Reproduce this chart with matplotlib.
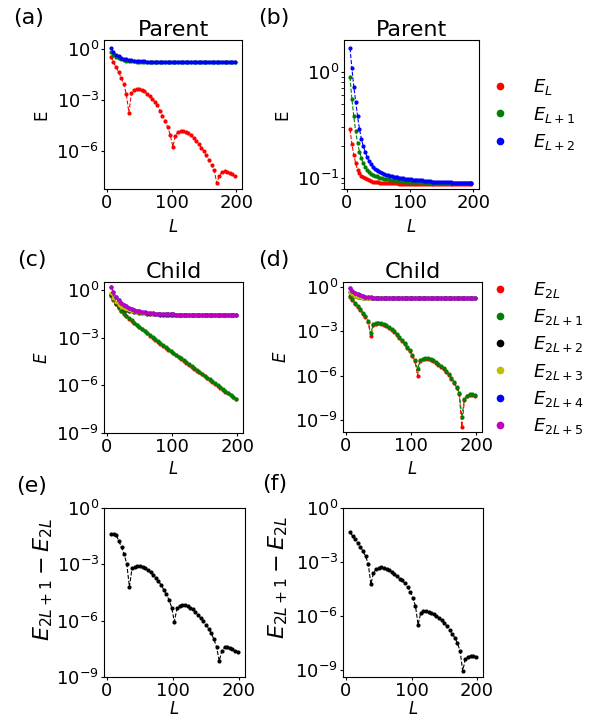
import numpy as np
import matplotlib
matplotlib.use("Agg")
import matplotlib.pyplot as plt
from matplotlib.lines import Line2D
from matplotlib.ticker import NullLocator, NullFormatter


# system sizes
L = np.arange(6, 199, 4)       # 6, 10, ..., 198
L_b = np.arange(5, 198, 3)     # 5, 8, ..., 197  (panel b)

# ---- (a) parent, log10 of the three lowest levels ----
a_EL = [-0.45, -0.75, -1.05, -1.35, -1.7, -2.05, -2.65, -3.75, -2.6, -2.4,
        -2.35, -2.36, -2.42, -2.5, -2.62, -2.76, -2.92, -3.1, -3.32, -3.62,
        -3.92, -4.24, -4.6, -5.05, -5.75, -5.1, -4.88, -4.8, -4.8, -4.86,
        -4.95, -5.07, -5.22, -5.4, -5.6, -5.8, -6.0, -6.25, -6.52, -6.82,
        -7.15, -7.9, -7.45, -7.25, -7.2, -7.22, -7.28, -7.36, -7.45]
a_EL1 = [-0.2, -0.34, -0.45, -0.54, -0.6, -0.65, -0.68, -0.7, -0.72, -0.73,
         -0.74, -0.75, -0.755, -0.76, -0.765, -0.77, -0.77, -0.775, -0.775, -0.78,
         -0.78, -0.78, -0.78, -0.78, -0.78, -0.78, -0.78, -0.78, -0.78, -0.78,
         -0.78, -0.78, -0.78, -0.78, -0.78, -0.78, -0.78, -0.78, -0.78, -0.78,
         -0.78, -0.78, -0.78, -0.78, -0.78, -0.78, -0.78, -0.78, -0.78]
a_EL2 = [0.08, -0.17, -0.33, -0.43, -0.51, -0.57, -0.61, -0.64, -0.66, -0.68,
         -0.7, -0.71, -0.72, -0.73, -0.74, -0.745, -0.75, -0.755, -0.76, -0.765,
         -0.77, -0.77, -0.77, -0.775, -0.775, -0.775, -0.775, -0.775, -0.78, -0.78,
         -0.78, -0.78, -0.78, -0.78, -0.78, -0.78, -0.78, -0.78, -0.78, -0.78,
         -0.78, -0.78, -0.78, -0.78, -0.78, -0.78, -0.78, -0.78, -0.78]

# ---- (b) parent, log10 levels on L_b ----
b_EL = [-0.54, -0.68, -0.78, -0.86, -0.92, -0.95, -0.975, -0.99, -1.0, -1.01,
        -1.02, -1.025, -1.03, -1.03, -1.035, -1.035, -1.04, -1.04, -1.04, -1.04,
        -1.045, -1.045, -1.045, -1.045, -1.045, -1.045, -1.05, -1.05, -1.05, -1.05,
        -1.05, -1.05, -1.05, -1.05, -1.05, -1.05, -1.05, -1.05, -1.05, -1.05,
        -1.055, -1.055, -1.055, -1.055, -1.055, -1.055, -1.055, -1.055, -1.055, -1.055,
        -1.055, -1.055, -1.055, -1.055, -1.055, -1.055, -1.055, -1.055, -1.055, -1.055,
        -1.055, -1.055, -1.055, -1.055, -1.055]
b_EL1 = [-0.05, -0.26, -0.42, -0.56, -0.67, -0.75, -0.81, -0.86, -0.89, -0.92,
         -0.94, -0.955, -0.965, -0.975, -0.98, -0.99, -0.995, -1.0, -1.005, -1.01,
         -1.01, -1.015, -1.015, -1.02, -1.02, -1.02, -1.025, -1.025, -1.025, -1.03,
         -1.03, -1.03, -1.03, -1.03, -1.035, -1.035, -1.035, -1.035, -1.035, -1.035,
         -1.04, -1.04, -1.04, -1.04, -1.04, -1.04, -1.04, -1.04, -1.04, -1.04,
         -1.045, -1.045, -1.045, -1.045, -1.045, -1.045, -1.045, -1.045, -1.045, -1.045,
         -1.045, -1.045, -1.045, -1.045, -1.045]
b_EL2 = [0.22, 0.03, -0.14, -0.28, -0.42, -0.54, -0.63, -0.7, -0.75, -0.8,
         -0.84, -0.87, -0.89, -0.91, -0.92, -0.93, -0.94, -0.95, -0.96, -0.965,
         -0.97, -0.975, -0.98, -0.985, -0.99, -0.99, -0.995, -1.0, -1.0, -1.005,
         -1.01, -1.01, -1.01, -1.015, -1.015, -1.02, -1.02, -1.02, -1.02, -1.025,
         -1.025, -1.025, -1.025, -1.03, -1.03, -1.03, -1.03, -1.03, -1.035, -1.035,
         -1.035, -1.035, -1.035, -1.035, -1.04, -1.04, -1.04, -1.04, -1.04, -1.04,
         -1.04, -1.04, -1.04, -1.04, -1.04]

# ---- (c) child, log10 levels ----
c_E2L = [-0.35, -0.64, -0.91, -1.14, -1.34, -1.52, -1.66, -1.81, -1.96, -2.09,
         -2.22, -2.35, -2.48, -2.61, -2.74, -2.87, -3.0, -3.13, -3.26, -3.39,
         -3.51, -3.63, -3.75, -3.87, -3.99, -4.11, -4.23, -4.35, -4.47, -4.59,
         -4.71, -4.83, -4.95, -5.07, -5.19, -5.31, -5.43, -5.55, -5.67, -5.79,
         -5.91, -6.03, -6.15, -6.27, -6.39, -6.51, -6.63, -6.75, -6.87]
c_E2L1 = [-0.31, -0.6, -0.87, -1.1, -1.3, -1.48, -1.62, -1.77, -1.92, -2.05,
          -2.18, -2.31, -2.44, -2.57, -2.7, -2.83, -2.96, -3.09, -3.22, -3.35,
          -3.47, -3.59, -3.71, -3.83, -3.95, -4.07, -4.19, -4.31, -4.43, -4.55,
          -4.67, -4.79, -4.91, -5.03, -5.15, -5.27, -5.39, -5.51, -5.63, -5.75,
          -5.87, -5.99, -6.11, -6.23, -6.35, -6.47, -6.59, -6.71, -6.83]
c_E2L2 = [-0.24, -0.53, -0.81, -0.98, -1.1, -1.19, -1.25, -1.3, -1.34, -1.38,
          -1.41, -1.44, -1.46, -1.48, -1.5, -1.51, -1.52, -1.53, -1.54, -1.55,
          -1.55, -1.56, -1.56, -1.57, -1.57, -1.58, -1.58, -1.58, -1.59, -1.59,
          -1.59, -1.59, -1.59, -1.6, -1.6, -1.6, -1.6, -1.6, -1.6, -1.6,
          -1.6, -1.6, -1.6, -1.6, -1.6, -1.6, -1.6, -1.6, -1.6]
c_E2L3 = [-0.21, -0.5, -0.78, -0.95, -1.07, -1.16, -1.22, -1.27, -1.31, -1.35,
          -1.38, -1.41, -1.43, -1.45, -1.47, -1.48, -1.49, -1.5, -1.51, -1.52,
          -1.52, -1.53, -1.53, -1.54, -1.54, -1.55, -1.55, -1.55, -1.56, -1.56,
          -1.56, -1.56, -1.56, -1.57, -1.57, -1.57, -1.57, -1.57, -1.57, -1.57,
          -1.57, -1.57, -1.57, -1.57, -1.57, -1.57, -1.57, -1.57, -1.57]
c_E2L5 = [0.17, -0.14, -0.45, -0.66, -0.83, -0.95, -1.04, -1.12, -1.19, -1.25,
          -1.3, -1.34, -1.38, -1.41, -1.44, -1.46, -1.48, -1.49, -1.5, -1.51,
          -1.52, -1.53, -1.53, -1.54, -1.54, -1.55, -1.55, -1.55, -1.56, -1.56,
          -1.56, -1.56, -1.56, -1.57, -1.57, -1.57, -1.57, -1.57, -1.57, -1.57,
          -1.57, -1.57, -1.57, -1.57, -1.57, -1.57, -1.57, -1.57, -1.57]
c_E2L4 = c_E2L5  # degenerate pair, E_{2L+4} sits under E_{2L+5}

# ---- (d) child, log10 levels ----
d_E2L = [-0.66, -0.91, -1.14, -1.34, -1.56, -1.81, -2.06, -2.36, -3.3, -2.61,
         -2.51, -2.48, -2.51, -2.58, -2.66, -2.78, -2.91, -3.06, -3.24, -3.44,
         -3.66, -3.88, -4.11, -4.36, -4.68, -5.01, -6.0, -5.01, -4.91, -4.86,
         -4.88, -4.94, -5.04, -5.16, -5.3, -5.44, -5.58, -5.74, -5.96, -6.21,
         -6.51, -6.86, -7.21, -9.45, -7.66, -7.41, -7.31, -7.31, -7.36]
d_E2L1 = [-0.6, -0.85, -1.08, -1.28, -1.5, -1.75, -2.0, -2.3, -3.15, -2.55,
          -2.45, -2.42, -2.45, -2.52, -2.6, -2.72, -2.85, -3.0, -3.18, -3.38,
          -3.6, -3.82, -4.05, -4.3, -4.62, -4.95, -5.55, -4.95, -4.85, -4.8,
          -4.82, -4.88, -4.98, -5.1, -5.24, -5.38, -5.52, -5.68, -5.9, -6.15,
          -6.45, -6.8, -7.15, -8.8, -7.6, -7.35, -7.25, -7.25, -7.3]
d_E2L3 = [-0.38, -0.52, -0.62, -0.68, -0.72, -0.74, -0.755, -0.765, -0.77, -0.775,
          -0.78, -0.78, -0.78, -0.78, -0.78, -0.78, -0.78, -0.78, -0.78, -0.78,
          -0.78, -0.78, -0.78, -0.78, -0.78, -0.78, -0.78, -0.78, -0.78, -0.78,
          -0.78, -0.78, -0.78, -0.78, -0.78, -0.78, -0.78, -0.78, -0.78, -0.78,
          -0.78, -0.78, -0.78, -0.78, -0.78, -0.78, -0.78, -0.78, -0.78]
d_E2L2 = d_E2L3  # degenerate pair
d_E2L5 = [-0.11, -0.28, -0.4, -0.5, -0.57, -0.62, -0.66, -0.69, -0.71, -0.73,
          -0.74, -0.75, -0.755, -0.76, -0.765, -0.77, -0.77, -0.775, -0.775, -0.78,
          -0.78, -0.78, -0.78, -0.78, -0.78, -0.78, -0.78, -0.78, -0.78, -0.78,
          -0.78, -0.78, -0.78, -0.78, -0.78, -0.78, -0.78, -0.78, -0.78, -0.78,
          -0.78, -0.78, -0.78, -0.78, -0.78, -0.78, -0.78, -0.78, -0.78]
d_E2L4 = d_E2L5  # degenerate pair

# ---- (e), (f) log10 of the gap E_{2L+1} - E_{2L} ----
e_gap = [-1.4, -1.4, -1.45, -1.75, -2.1, -2.45, -3.0, -4.2, -3.2, -3.15,
         -3.1, -3.1, -3.13, -3.2, -3.3, -3.42, -3.56, -3.72, -3.9, -4.1,
         -4.35, -4.6, -4.9, -5.3, -6.05, -5.35, -5.2, -5.15, -5.17, -5.22,
         -5.3, -5.4, -5.55, -5.7, -5.86, -6.03, -6.21, -6.42, -6.68, -7.0,
         -7.4, -8.15, -7.6, -7.42, -7.4, -7.45, -7.52, -7.6, -7.66]
f_gap = [-1.35, -1.55, -1.75, -1.95, -2.15, -2.4, -2.7, -3.1, -4.25, -3.6,
         -3.42, -3.34, -3.31, -3.33, -3.38, -3.45, -3.55, -3.67, -3.8, -3.95,
         -4.03, -4.2, -4.4, -4.65, -5.0, -5.45, -6.5, -5.85, -5.76, -5.75,
         -5.77, -5.83, -5.9, -6.0, -6.12, -6.25, -6.4, -6.57, -6.77, -7.0,
         -7.22, -7.52, -7.95, -9.07, -8.43, -8.28, -8.24, -8.25, -8.27]

parent_labels = ["$E_L$", "$E_{L+1}$", "$E_{L+2}$"]
child_labels = ["$E_{2L}$", "$E_{2L+1}$", "$E_{2L+2}$",
                "$E_{2L+3}$", "$E_{2L+4}$", "$E_{2L+5}$"]
parent_colors = ["r", "g", "b"]
child_colors = ["r", "g", "k", "y", "b", "m"]

W, H = 605, 722


def box(l, t, r, b):
    # pixel box (from top-left) -> figure fraction rect
    return [l / W, 1 - b / H, (r - l) / W, (b - t) / H]


def draw(ax, x, series, colors):
    for y, c in zip(series, colors):
        ax.plot(x, 10.0 ** np.asarray(y), color=c, ls="--", lw=0.8,
                marker="o", ms=3.0, mew=0)
    ax.set_yscale("log")
    ax.set_xlim(-4.5, 209)
    ax.set_xticks([0, 100, 200])
    ax.tick_params(labelsize=13, length=2.5, pad=1)


def decades(ax, ticks):
    ax.set_yticks(ticks)
    ax.yaxis.set_minor_locator(NullLocator())


def xlab(ax, drop):
    # put the L label a fixed number of pixels under the bottom spine
    ax.set_xlabel("$L$", fontsize=12)
    h = ax.get_position().height * H
    ax.xaxis.set_label_coords(0.5, -drop / h)


def gap_ylabel(ax, right_px, center_px):
    # long difference label, right edge and centre given in pixels
    ax.set_ylabel("$E_{2L+1}-E_{2L}$", fontsize=16)
    p = ax.get_position()
    l, w = p.x0 * W, p.width * W
    b, h = (1 - p.y0) * H, p.height * H
    ax.yaxis.set_label_coords((right_px - l) / w, (b - center_px) / h)


fig = plt.figure(figsize=(W / 100, H / 100), dpi=100)

ax_a = fig.add_axes(box(104, 40, 242, 189))
draw(ax_a, L, [a_EL, a_EL1, a_EL2], parent_colors)
ax_a.set_ylim(10 ** -8.24, 10 ** 0.53)
decades(ax_a, [1e0, 1e-3, 1e-6])
ax_a.set_title("Parent", fontsize=16, pad=3)
ax_a.set_ylabel("E", fontsize=12)
xlab(ax_a, 29)

ax_b = fig.add_axes(box(344, 40, 479, 189))
draw(ax_b, L_b, [b_EL, b_EL1, b_EL2], parent_colors)
ax_b.set_ylim(10 ** -1.10, 10 ** 0.297)
ax_b.yaxis.set_minor_formatter(NullFormatter())
ax_b.set_title("Parent", fontsize=16, pad=3)
ax_b.set_ylabel("E", fontsize=12)
xlab(ax_b, 29)

ax_c = fig.add_axes(box(104, 282, 243, 433))
draw(ax_c, L, [c_E2L, c_E2L1, c_E2L2, c_E2L3, c_E2L4, c_E2L5], child_colors)
ax_c.set_ylim(1e-9, 10 ** 0.5)
decades(ax_c, [1e0, 1e-3, 1e-6, 1e-9])
ax_c.set_title("Child", fontsize=16, pad=3)
ax_c.set_ylabel("$E$", fontsize=12)
xlab(ax_c, 27)

ax_d = fig.add_axes(box(343, 282, 482, 432))
draw(ax_d, L, [d_E2L, d_E2L1, d_E2L2, d_E2L3, d_E2L4, d_E2L5], child_colors)
ax_d.set_ylim(10 ** -9.81, 10 ** 0.32)
decades(ax_d, [1e0, 1e-3, 1e-6, 1e-9])
ax_d.set_title("Child", fontsize=16, pad=3)
ax_d.set_ylabel("$E$", fontsize=12)
xlab(ax_d, 28)

ax_e = fig.add_axes(box(104, 508, 245, 677))
draw(ax_e, L, [e_gap], ["k"])
ax_e.set_ylim(1e-9, 1e0)
decades(ax_e, [1e0, 1e-3, 1e-6, 1e-9])
gap_ylabel(ax_e, 55, 579)
xlab(ax_e, 23)

ax_f = fig.add_axes(box(343, 508, 483, 677))
draw(ax_f, L, [f_gap], ["k"])
ax_f.set_ylim(10 ** -9.41, 1e0)
decades(ax_f, [1e0, 1e-3, 1e-6, 1e-9])
gap_ylabel(ax_f, 290, 577)
xlab(ax_f, 23)

# panel tags
for tag, x, y in [("(a)", 13, 8), ("(b)", 258, 8), ("(c)", 17, 250),
                  ("(d)", 258, 250), ("(e)", 16, 476), ("(f)", 262, 474)]:
    fig.text(x / W, 1 - y / H, tag, ha="left", va="top", fontsize=16)


def dots(colors):
    return [Line2D([], [], color=c, marker="o", ls="none", ms=4.5) for c in colors]


fig.legend(dots(parent_colors), parent_labels, loc="center left",
           bbox_to_anchor=(475 / W, 1 - 114.7 / H), frameon=False,
           fontsize=13, borderaxespad=0, labelspacing=0.4)
fig.legend(dots(child_colors), child_labels, loc="center left",
           bbox_to_anchor=(475 / W, 1 - 358 / H), frameon=False,
           fontsize=13, borderaxespad=0, labelspacing=0.4)

fig.savefig("out.png", dpi=100)
